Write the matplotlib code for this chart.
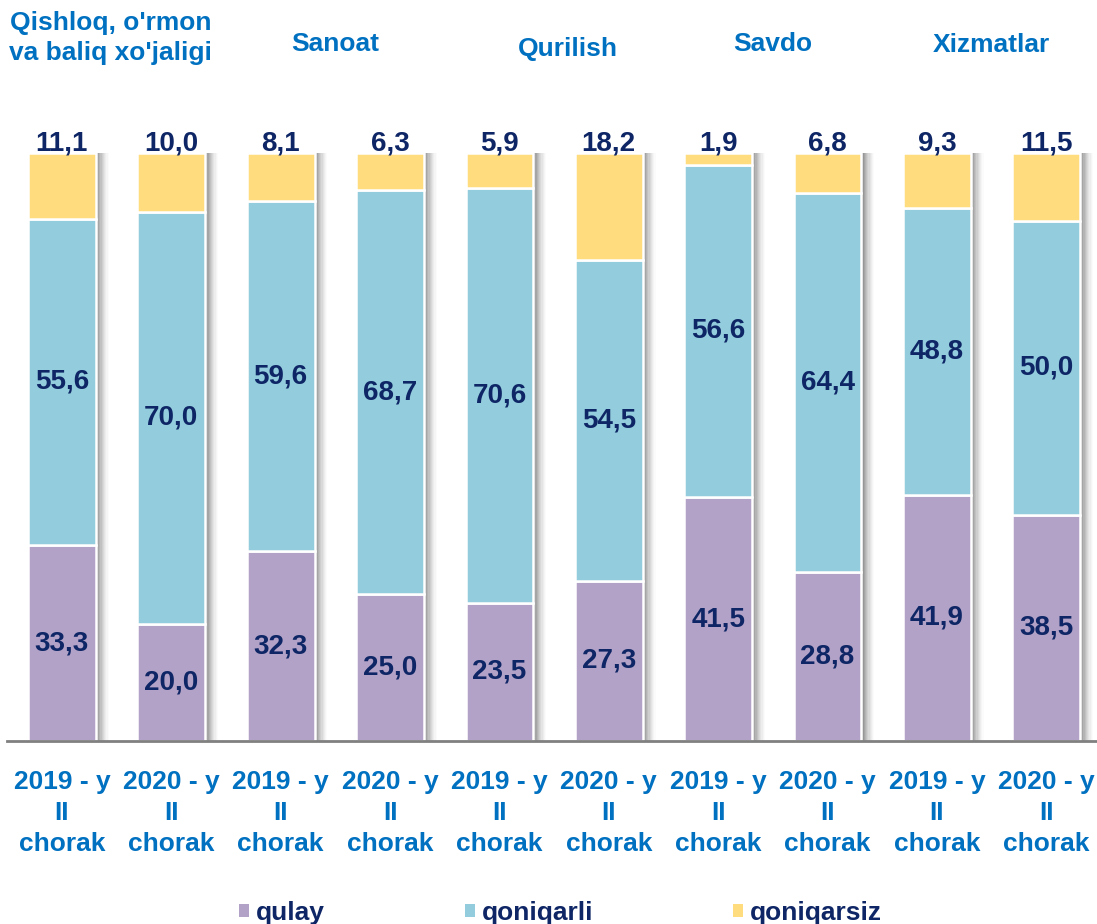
import numpy as np
import matplotlib.pyplot as plt
from matplotlib.patches import Patch

plt.rcParams['font.family'] = ['Liberation Sans', 'DejaVu Sans']

sectors = ["Qishloq, o'rmon\nva baliq xo'jaligi", "Sanoat", "Qurilish", "Savdo", "Xizmatlar"]
periods = ["2019 - y\nII\nchorak", "2020 - y\nII\nchorak"] * 5
qulay = [33.3, 20.0, 32.3, 25.0, 23.5, 27.3, 41.5, 28.8, 41.9, 38.5]
qoniqarli = [55.6, 70.0, 59.6, 68.7, 70.6, 54.5, 56.6, 64.4, 48.8, 50.0]
qoniqarsiz = [11.1, 10.0, 8.1, 6.3, 5.9, 18.2, 1.9, 6.8, 9.3, 11.5]
series_names = ['qulay', 'qoniqarli', 'qoniqarsiz']

colors = ['#B3A2C7', '#93CDDD', '#FFDD7F']
navy = '#0E2665'
blue = '#0070C0'

fig = plt.figure(figsize=(10.97, 9.24), dpi=100)
ax = fig.add_axes([0.0066, 0.198, 0.997, 0.636])

x = np.arange(len(qulay))
w = 0.62
px = 1 / 109.4

# shadow on the right of each bar
tot = np.array(qulay) + np.array(qoniqarli) + np.array(qoniqarsiz)
n_sh = 10
for i in range(n_sh):
    a = 0.6 * (1 - i / n_sh) ** 1.5
    ax.bar(x + w / 2 + (1.5 + 1.2 * i) * px, tot, width=1.2 * px, color='#505050',
           alpha=a, linewidth=0, zorder=1)

bottom = np.zeros(len(x))
for vals, c in zip([qulay, qoniqarli, qoniqarsiz], colors):
    vals = np.array(vals)
    ax.bar(x, vals, width=w, bottom=bottom, color=c, edgecolor='white',
           linewidth=1.8, zorder=2)
    bottom += vals


def fmt(v):
    return f"{v:.1f}".replace('.', ',')


for i in range(len(x)):
    ax.text(x[i], qulay[i] / 2, fmt(qulay[i]), ha='center', va='center',
            fontsize=20, fontweight='bold', color=navy, zorder=3)
    ax.text(x[i], qulay[i] + qoniqarli[i] / 2, fmt(qoniqarli[i]),
            ha='center', va='center', fontsize=20, fontweight='bold', color=navy, zorder=3)
    ax.text(x[i], 101.6, fmt(qoniqarsiz[i]), ha='center', va='center',
            fontsize=20, fontweight='bold', color=navy, zorder=3)

ax.set_xlim(-0.5, len(x) - 0.5)
ax.set_ylim(0, 100)
for s in ['top', 'right', 'left']:
    ax.spines[s].set_visible(False)
ax.spines['bottom'].set_color('#808080')
ax.spines['bottom'].set_linewidth(2)
ax.set_yticks([])
ax.set_xticks(x)
ax.set_xticklabels(periods, fontsize=19, fontweight='bold', color=blue, linespacing=1.36)
ax.tick_params(axis='x', length=0, pad=21)

# sector titles
title_y = [38, 44, 49, 44, 45]
for k, name in enumerate(sectors):
    xc = 2 * k + 0.5
    fy = 1 - title_y[k] / 924
    xf = ax.transData.transform((xc, 0))[0] / fig.bbox.width
    if k == 2:
        xf += 14 / 1097
    if k == 0:
        xf -= 6 / 1097
    fig.text(xf, fy, name, ha='center', va='center', fontsize=19, fontweight='bold',
             color=blue, linespacing=1.3)

handles = [Patch(facecolor=c, edgecolor='none') for c in colors]
leg = fig.legend(handles, series_names, loc='center', bbox_to_anchor=(0.511, 0.012), ncol=3,
                 frameon=False, handlelength=0.38, handleheight=0.38, handletextpad=0.27,
                 columnspacing=5.3, borderpad=0, prop={'size': 19, 'weight': 'bold'})
for t in leg.get_texts():
    t.set_color(navy)

fig.savefig('out.png', dpi=100)
